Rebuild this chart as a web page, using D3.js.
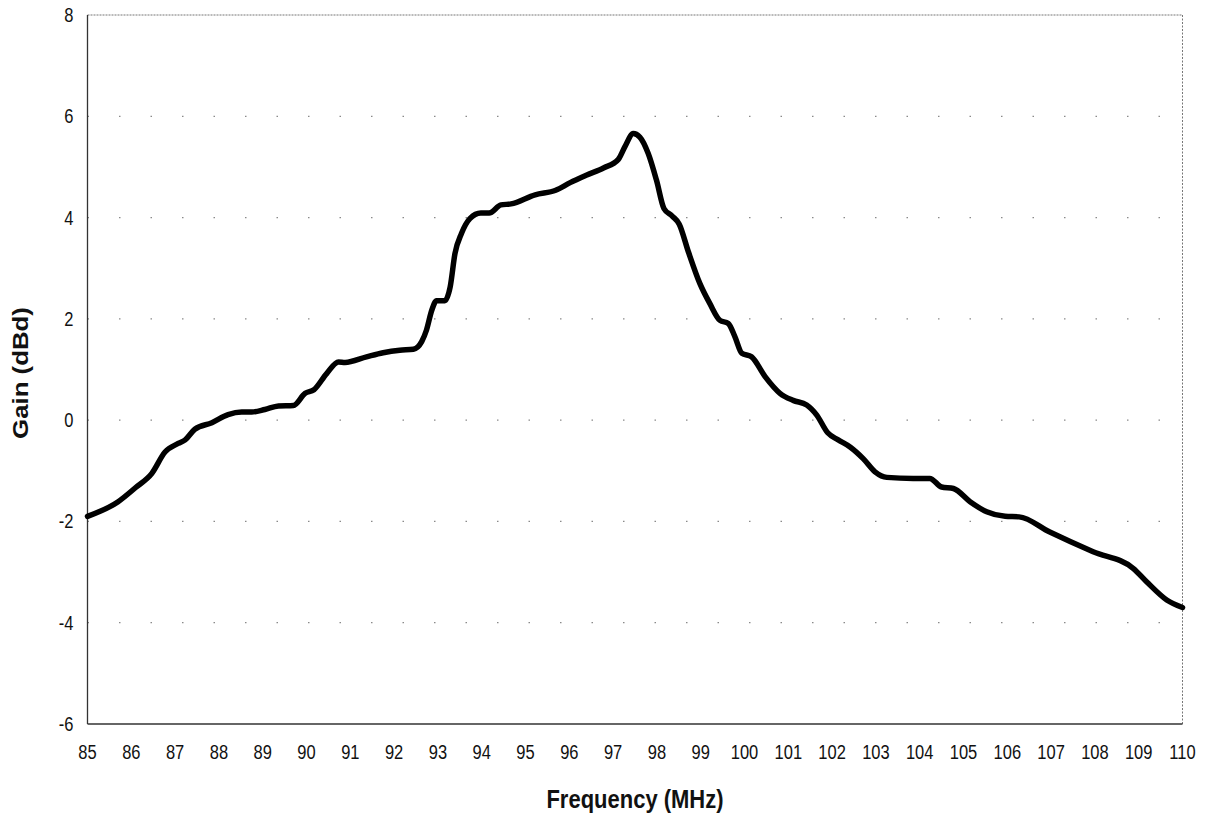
<!DOCTYPE html>
<html>
<head>
<meta charset="utf-8">
<script src="https://cdn.jsdelivr.net/npm/d3@7"></script>
<style>
  html, body { margin: 0; padding: 0; background: #fff; }
  svg { display: block; }
  text { font-family: "Liberation Sans", Arial, sans-serif; fill: #111; }
</style>
</head>
<body>
<svg id="chart" width="1205" height="827"></svg>
<script>
// Measured gain of the antenna across the FM band
const frequency = [
  85.0, 85.7, 86.1, 86.47, 86.77, 87.07, 87.23, 87.45, 87.84, 88.21, 88.52,
  88.75, 89.05, 89.36, 89.70, 89.97, 90.17, 90.46, 90.73, 90.88, 91.37,
  91.75, 92.13, 92.44, 92.63, 92.74, 92.86, 92.97, 93.16, 93.28, 93.39,
  93.54, 93.73, 93.98, 94.17, 94.44, 94.67, 95.22, 95.69, 96.02, 96.40,
  96.78, 97.12, 97.27, 97.46, 97.61, 97.80, 97.99, 98.16, 98.35, 98.51,
  98.72, 98.98, 99.21, 99.44, 99.63, 99.78, 99.94, 100.16, 100.47, 100.81,
  101.11, 101.42, 101.65, 101.90, 102.14, 102.41, 102.71, 102.98, 103.25, 103.85,
  104.23, 104.50, 104.77, 105.15, 105.53, 105.95, 106.27, 106.97, 107.96, 108.88,
  109.18, 109.64, 110.0
];
const gain = [
  -1.90, -1.61, -1.33, -1.05, -0.63, -0.46, -0.39, -0.18, -0.05, 0.11, 0.16,
  0.16, 0.21, 0.28, 0.29, 0.53, 0.60, 0.92, 1.15, 1.14, 1.25,
  1.33, 1.38, 1.40, 1.55, 1.78, 2.17, 2.36, 2.36, 2.63, 3.29,
  3.69, 3.98, 4.09, 4.09, 4.25, 4.27, 4.45, 4.54, 4.69, 4.84,
  4.98, 5.15, 5.40, 5.66, 5.59, 5.27, 4.74, 4.18, 4.03, 3.87,
  3.32, 2.70, 2.30, 1.97, 1.91, 1.65, 1.32, 1.25, 0.86, 0.53,
  0.39, 0.30, 0.10, -0.25, -0.39, -0.53, -0.76, -1.02, -1.13, -1.15,
  -1.15, -1.32, -1.35, -1.61, -1.81, -1.90, -1.91, -2.21, -2.60, -2.93,
  -3.19, -3.55, -3.70
];
const xTicks = d3.range(85, 111, 1);
const yTicks = [-6, -4, -2, 0, 2, 4, 6, 8];
const xTitle = "Frequency (MHz)";
const yTitle = "Gain (dBd)";

const svg = d3.select("#chart");
const plot = { left: 87.5, right: 1182.5, top: 15, bottom: 724 };

const x = d3.scaleLinear().domain([85, 110]).range([plot.left, plot.right]);
const y = d3.scaleLinear().domain([-6, 8]).range([plot.bottom, plot.top]);

// faint dotted horizontal gridlines
svg.append("g")
  .selectAll("line")
  .data(yTicks.filter(v => v > -6 && v < 8))
  .join("line")
  .attr("x1", plot.left).attr("x2", plot.right)
  .attr("y1", d => y(d)).attr("y2", d => y(d))
  .attr("stroke", "#8a8a8a")
  .attr("stroke-width", 1.2)
  .attr("stroke-dasharray", "1.5,30");

// plot frame: dotted top/right, solid left/bottom
svg.append("line")
  .attr("x1", plot.left).attr("x2", plot.right)
  .attr("y1", plot.top).attr("y2", plot.top)
  .attr("stroke", "#777").attr("stroke-width", 1).attr("stroke-dasharray", "2,1");
svg.append("line")
  .attr("x1", plot.right).attr("x2", plot.right)
  .attr("y1", plot.top).attr("y2", plot.bottom)
  .attr("stroke", "#777").attr("stroke-width", 1).attr("stroke-dasharray", "2,1.5");
svg.append("line")
  .attr("x1", plot.left).attr("x2", plot.left)
  .attr("y1", plot.top).attr("y2", plot.bottom)
  .attr("stroke", "#333").attr("stroke-width", 1.3);
svg.append("line")
  .attr("x1", plot.left).attr("x2", plot.right)
  .attr("y1", plot.bottom).attr("y2", plot.bottom)
  .attr("stroke", "#333").attr("stroke-width", 1.3);

// tick labels (slightly tall glyphs)
svg.append("g")
  .selectAll("g")
  .data(xTicks)
  .join("g")
  .attr("transform", d => `translate(${x(d)},${plot.bottom + 35}) scale(1,1.2)`)
  .append("text")
  .attr("text-anchor", "middle")
  .attr("font-size", 16.5)
  .text(d => d);

svg.append("g")
  .selectAll("g")
  .data(yTicks)
  .join("g")
  .attr("transform", d => `translate(${plot.left - 14},${y(d) + 7}) scale(1,1.2)`)
  .append("text")
  .attr("text-anchor", "end")
  .attr("font-size", 16.5)
  .text(d => d);

// axis titles
svg.append("g")
  .attr("transform", `translate(635,808) scale(1,1.2)`)
  .append("text")
  .attr("text-anchor", "middle")
  .attr("font-size", 22)
  .attr("font-weight", "bold")
  .text(xTitle);

svg.append("g")
  .attr("transform", `translate(28,373) rotate(-90) scale(1.2,1)`)
  .append("text")
  .attr("text-anchor", "middle")
  .attr("font-size", 21.5)
  .attr("font-weight", "bold")
  .text(yTitle);

// gain curve
const pts = frequency.map((f, i) => [f, gain[i]]);
const line = d3.line()
  .x(d => x(d[0]))
  .y(d => y(d[1]))
  .curve(d3.curveMonotoneX);

svg.append("path")
  .datum(pts)
  .attr("d", line)
  .attr("fill", "none")
  .attr("stroke", "#000")
  .attr("stroke-width", 5.5)
  .attr("stroke-linejoin", "round")
  .attr("stroke-linecap", "round");
</script>
</body>
</html>
